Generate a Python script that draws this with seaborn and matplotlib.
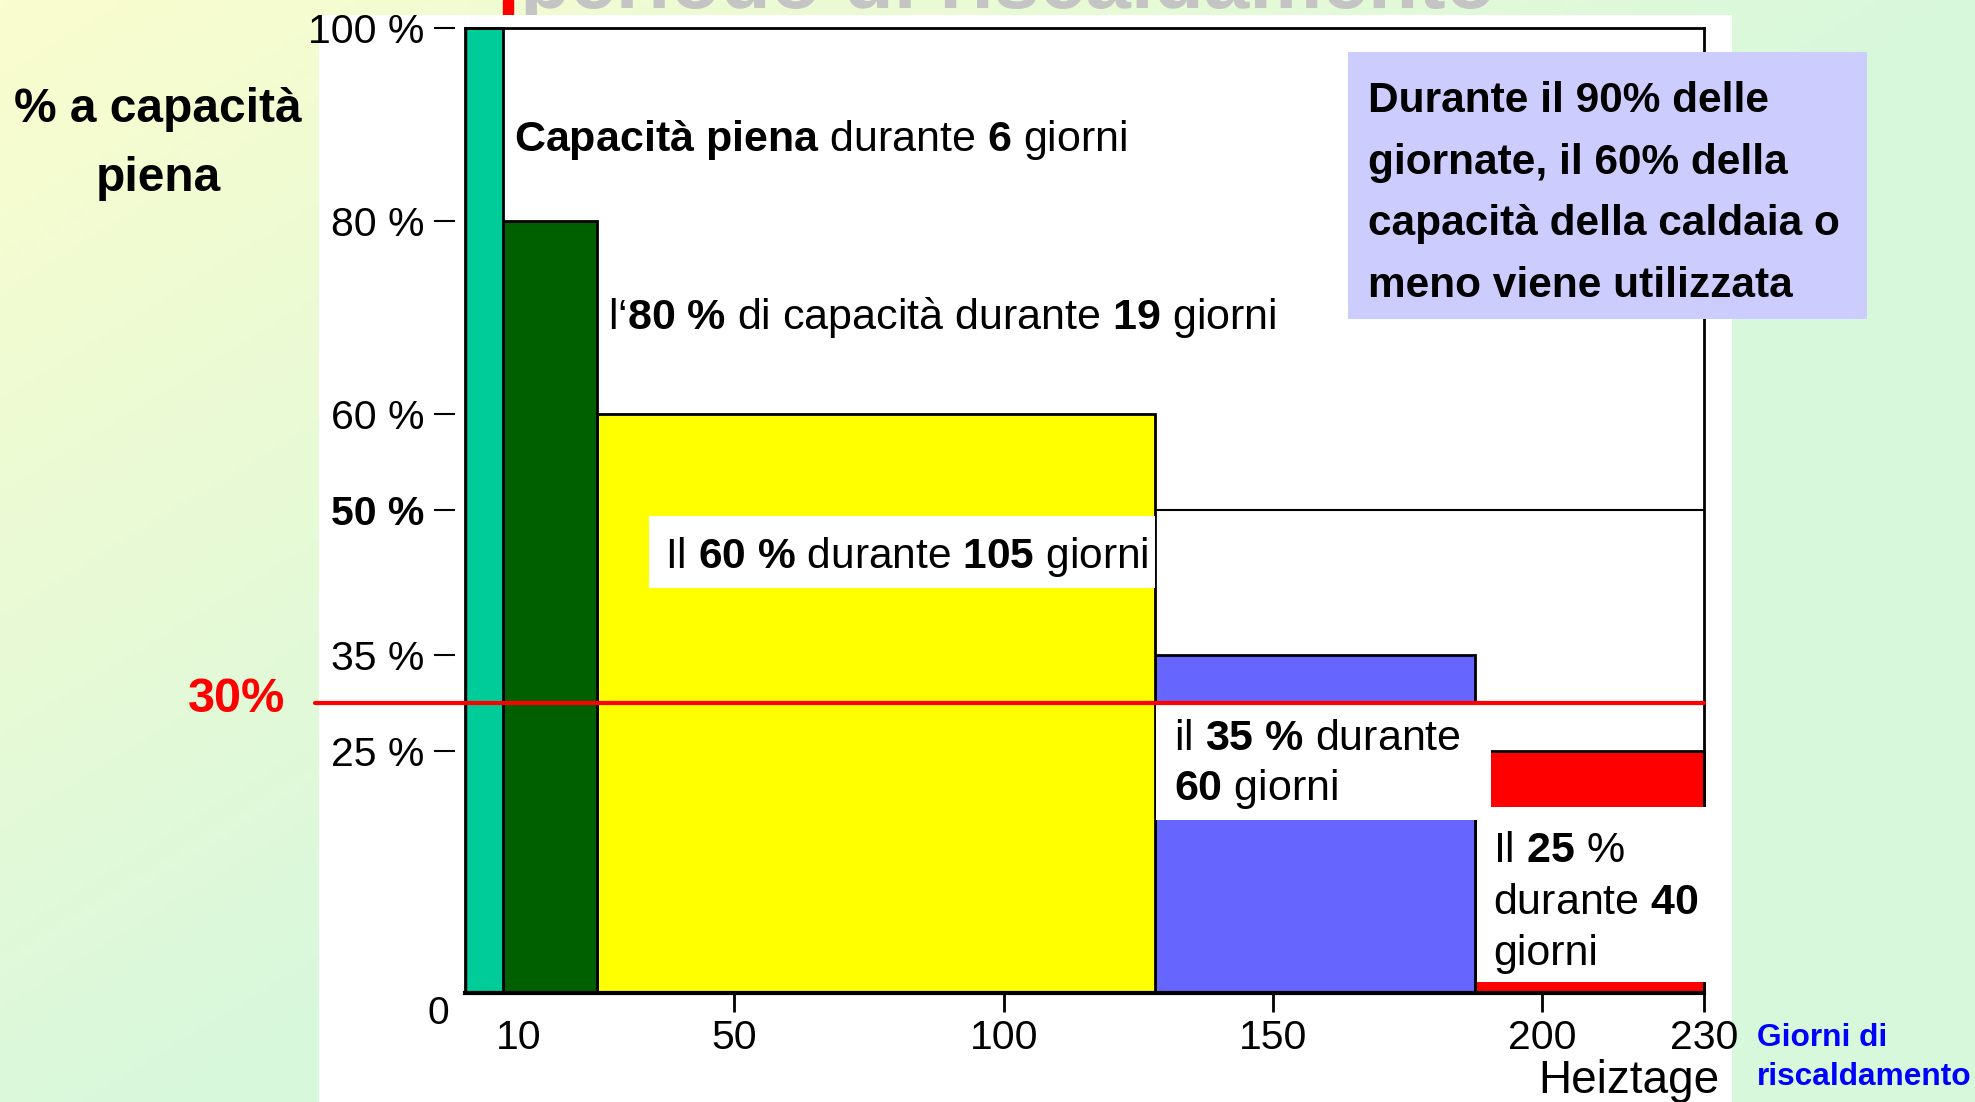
import numpy as np
import pandas as pd
import matplotlib
matplotlib.use("Agg")
import matplotlib.pyplot as plt
import seaborn as sns
from matplotlib.patches import Rectangle

# ---------------- data ----------------
segments = ["Capacità piena", "80 %", "60 %", "35 %", "25 %"]
capacity_pct = [100, 80, 60, 35, 25]
day_edges = [0, 7, 24.5, 128, 187.5, 230]
label_days = [6, 19, 105, 60, 40]
bar_colors = ["#00CC99", "#006000", "#FFFF00", "#6666FF", "#FF0000"]
y_ticks = [25, 35, 50, 60, 80, 100]
y_tick_labels = ["25 %", "35 %", "50 %", "60 %", "80 %", "100 %"]
x_ticks = [10, 50, 100, 150, 200, 230]
x_tick_labels = ["10", "50", "100", "150", "200", "230"]
threshold_pct = 30
reference_pct = 50

W, H = 1975, 1102
sns.set_theme(style="white")
plt.rcParams['font.family'] = ['Liberation Sans', 'DejaVu Sans']
plt.rcParams['text.color'] = 'black'
plt.rcParams['axes.labelcolor'] = 'black'
plt.rcParams['xtick.color'] = 'black'
plt.rcParams['ytick.color'] = 'black'
plt.rcParams['mathtext.fontset'] = 'custom'
plt.rcParams['mathtext.rm'] = 'Liberation Sans'
plt.rcParams['mathtext.bf'] = 'Liberation Sans:bold'
plt.rcParams['mathtext.it'] = 'Liberation Sans:italic'

fig = plt.figure(figsize=(W / 100, H / 100), dpi=100)


def fx(px):
    return px / W


def fy(py):
    return 1 - py / H


# ---------------- background ----------------
bg = fig.add_axes([0, 0, 1, 1], zorder=-10)
yy, xx = np.mgrid[0:1:220j, 0:1:400j]
t = np.clip((1.1 * xx + yy) * 0.9, 0, 1)[..., None]
c1 = np.array([250, 253, 206]) / 255
c2 = np.array([216, 248, 220]) / 255
bg.imshow(c1 * (1 - t) + c2 * t, aspect='auto', extent=[0, 1, 0, 1], origin='upper')
bg.axis('off')

# partially visible slide title + red marker
fig.text(fx(520), fy(8), "periodo di riscaldamento", fontsize=59, fontweight='bold',
         color='#C4C4C4', va='baseline', ha='left', zorder=-8)
fig.add_artist(Rectangle((fx(503), fy(16)), fx(10), 16 / H, transform=fig.transFigure,
                         color='red', zorder=-7))
# white panel
fig.add_artist(Rectangle((fx(319), 0), fx(1732 - 319), 1 - 15 / H, transform=fig.transFigure,
                         facecolor='white', edgecolor='none', zorder=-6))

# ---------------- main axes ----------------
x0, x1, ytop, ybot = 465, 1704, 27.7, 992.6
ax = fig.add_axes([fx(x0), fy(ybot), fx(x1 - x0), (ybot - ytop) / H], zorder=0)
ax.set_facecolor('none')

df = pd.DataFrame({
    'days_mid': [(a + b) / 2 for a, b in zip(day_edges[:-1], day_edges[1:])],
    'capacity': capacity_pct,
    'segment': segments,
})
sns.histplot(data=df, x='days_mid', weights='capacity', bins=day_edges, hue='segment',
             hue_order=segments, palette=dict(zip(segments, bar_colors)), multiple='layer',
             alpha=1, edgecolor='black', linewidth=2, legend=False, ax=ax)
for p in ax.patches:
    p.set_clip_on(False)

ax.set_xlim(0, 230)
ax.set_ylim(0, 100)
ax.set_xlabel('')
ax.set_ylabel('')

for s in ['top', 'right']:
    ax.spines[s].set_visible(True)
    ax.spines[s].set_color('black')
    ax.spines[s].set_linewidth(2)
ax.spines['bottom'].set_color('black')
ax.spines['bottom'].set_linewidth(3)
ax.spines['left'].set_position(('outward', 7))
ax.spines['left'].set_color('none')
ax.axvline(0, color='black', lw=2.5, zorder=3)

ax.set_yticks(y_ticks, y_tick_labels)
ax.set_xticks(x_ticks, x_tick_labels)
ax.tick_params(axis='y', left=True, length=15, width=1.5, pad=7, labelsize=29.5,
               direction='out', color='black', labelcolor='black')
ax.tick_params(axis='x', bottom=True, length=14, width=2, pad=5, labelsize=29.5,
               direction='out', color='black', labelcolor='black')
for lbl in ax.get_yticklabels():
    if lbl.get_text() == '50 %':
        lbl.set_fontweight('bold')
ax.xaxis.get_major_ticks()[0].tick1line.set_visible(False)


def dx(px):
    return (px - x0) / (x1 - x0) * 230


# reference line at 50 %
ax.hlines(reference_pct, day_edges[3], 230, color='black', lw=1.5, zorder=3)

# white label boxes
boxes = [
    (dx(649), 41.9, day_edges[3] - dx(649), 49.4 - 41.9),
    (day_edges[3] + 0.3, 17.9, dx(1491) - day_edges[3] - 0.3, 11.9),
    (day_edges[4] + 0.4, 1.1, dx(1708) - day_edges[4] - 0.4, 18.1),
]
for bx, by, bw, bh in boxes:
    ax.add_patch(Rectangle((bx, by), bw, bh, facecolor='white', edgecolor='none',
                           zorder=4, clip_on=False))

# 30 % threshold line
ax.axhline(threshold_pct, xmin=(315 - x0) / (x1 - x0), xmax=1, color='red', lw=3,
           clip_on=False, zorder=6)

# ---------------- texts ----------------
fs = 31
d = label_days
fig.text(fx(514), fy(151), r"$\mathbf{Capacità\ piena}$ durante $\mathbf{%d}$ giorni" % d[0],
         fontsize=fs, va='baseline', ha='left', zorder=10)
fig.text(fx(608), fy(329), r"l‘$\mathbf{80\ \%%}$ di capacità durante $\mathbf{%d}$ giorni" % d[1],
         fontsize=fs, va='baseline', ha='left', zorder=10)
fig.text(fx(665), fy(568), r"Il $\mathbf{60\ \%%}$ durante $\mathbf{%d}$ giorni" % d[2],
         fontsize=30.6, va='baseline', ha='left', zorder=10)
fig.text(fx(1174), fy(750), r"il $\mathbf{35\ \%}$ durante", fontsize=fs, va='baseline',
         ha='left', zorder=10)
fig.text(fx(1174), fy(800), r"$\mathbf{%d}$ giorni" % d[3], fontsize=fs, va='baseline',
         ha='left', zorder=10)
fig.text(fx(1493), fy(862), r"Il $\mathbf{25}$ %", fontsize=fs, va='baseline', ha='left', zorder=10)
fig.text(fx(1493), fy(914), r"durante $\mathbf{%d}$" % d[4], fontsize=fs, va='baseline',
         ha='left', zorder=10)
fig.text(fx(1493), fy(965), "giorni", fontsize=fs, va='baseline', ha='left', zorder=10)

# purple note box
fig.add_artist(Rectangle((fx(1348), fy(319)), fx(1867 - 1348), (319 - 52) / H,
                         transform=fig.transFigure, facecolor='#CCCCFF', edgecolor='none', zorder=8))
note_lines = ["Durante il 90% delle", "giornate, il 60% della",
              "capacità della caldaia o", "meno viene utilizzata"]
for i, line in enumerate(note_lines):
    fig.text(fx(1368), fy(112 + i * 61.7), line, fontsize=30.5, fontweight='bold',
             va='baseline', ha='left', zorder=10)

# y-axis title
fig.text(fx(158), fy(122), "% a capacità", fontsize=34.5, fontweight='bold', ha='center',
         va='baseline')
fig.text(fx(158), fy(191), "piena", fontsize=34.5, fontweight='bold', ha='center', va='baseline')

# 30% label
fig.text(fx(237), fy(712), "30%", fontsize=35, fontweight='bold', color='red', ha='center',
         va='baseline')

# zero label
fig.text(fx(438), fy(1014), "0", fontsize=28, ha='center', va='center')

# x-axis titles
fig.text(fx(1629), fy(1093), "Heiztage", fontsize=33, ha='center', va='baseline')
fig.text(fx(1757), fy(1046), "Giorni di", fontsize=22.8, fontweight='bold', color='#0000FF',
         ha='left', va='baseline')
fig.text(fx(1757), fy(1085), "riscaldamento", fontsize=22.8, fontweight='bold', color='#0000FF',
         ha='left', va='baseline')

fig.savefig("out.png", dpi=100)
